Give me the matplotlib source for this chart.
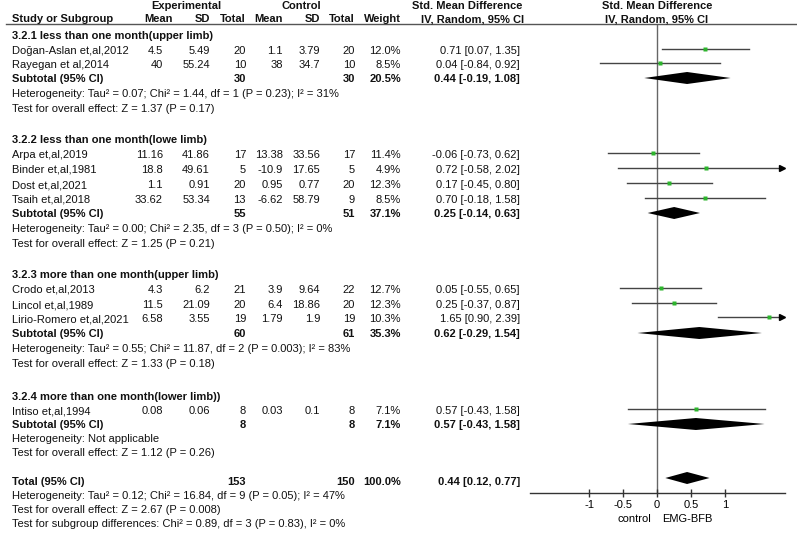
import matplotlib
matplotlib.use('Agg')
import matplotlib.pyplot as plt

plt.rcParams['font.family'] = ['Liberation Sans', 'DejaVu Sans']

# ---- data ----
groups = [
    '3.2.1 less than one month(upper limb)',
    '3.2.2 less than one month(lowe limb)',
    '3.2.3 more than one month(upper limb)',
    '3.2.4 more than one month(lower limb))',
]
studies = [
    'Doğan-Aslan et,al,2012', 'Rayegan et al,2014',
    'Arpa et,al,2019', 'Binder et,al,1981', 'Dost et,al,2021', 'Tsaih et,al,2018',
    'Crodo et,al,2013', 'Lincol et,al,1989', 'Lirio-Romero et,al,2021',
    'Intiso et,al,1994',
]
study_group = [0, 0, 1, 1, 1, 1, 2, 2, 2, 3]
exp_mean = ['4.5', '40', '11.16', '18.8', '1.1', '33.62', '4.3', '11.5', '6.58', '0.08']
exp_sd = ['5.49', '55.24', '41.86', '49.61', '0.91', '53.34', '6.2', '21.09', '3.55', '0.06']
exp_n = [20, 10, 17, 5, 20, 13, 21, 20, 19, 8]
ctl_mean = ['1.1', '38', '13.38', '-10.9', '0.95', '-6.62', '3.9', '6.4', '1.79', '0.03']
ctl_sd = ['3.79', '34.7', '33.56', '17.65', '0.77', '58.79', '9.64', '18.86', '1.9', '0.1']
ctl_n = [20, 10, 17, 5, 20, 9, 22, 20, 19, 8]
weight = [12.0, 8.5, 11.4, 4.9, 12.3, 8.5, 12.7, 12.3, 10.3, 7.1]
smd = [0.71, 0.04, -0.06, 0.72, 0.17, 0.70, 0.05, 0.25, 1.65, 0.57]
lo = [0.07, -0.84, -0.73, -0.58, -0.45, -0.18, -0.55, -0.37, 0.90, -0.43]
hi = [1.35, 0.92, 0.62, 2.02, 0.80, 1.58, 0.65, 0.87, 2.39, 1.58]

sub_exp_n = [30, 55, 60, 8]
sub_ctl_n = [30, 51, 61, 8]
sub_weight = [20.5, 37.1, 35.3, 7.1]
sub_smd = [0.44, 0.25, 0.62, 0.57]
sub_lo = [-0.19, -0.14, -0.29, -0.43]
sub_hi = [1.08, 0.63, 1.54, 1.58]
sub_het = [
    'Heterogeneity: Tau² = 0.07; Chi² = 1.44, df = 1 (P = 0.23); I² = 31%',
    'Heterogeneity: Tau² = 0.00; Chi² = 2.35, df = 3 (P = 0.50); I² = 0%',
    'Heterogeneity: Tau² = 0.55; Chi² = 11.87, df = 2 (P = 0.003); I² = 83%',
    'Heterogeneity: Not applicable',
]
sub_test = [
    'Test for overall effect: Z = 1.37 (P = 0.17)',
    'Test for overall effect: Z = 1.25 (P = 0.21)',
    'Test for overall effect: Z = 1.33 (P = 0.18)',
    'Test for overall effect: Z = 1.12 (P = 0.26)',
]
tot_exp_n, tot_ctl_n = 153, 150
tot_smd, tot_lo, tot_hi = 0.44, 0.12, 0.77
tot_lines = [
    'Heterogeneity: Tau² = 0.12; Chi² = 16.84, df = 9 (P = 0.05); I² = 47%',
    'Test for overall effect: Z = 2.67 (P = 0.008)',
    'Test for subgroup differences: Chi² = 0.89, df = 3 (P = 0.83), I² = 0%',
]
ticks = [-1, -0.5, 0, 0.5, 1]
tick_labels = ['-1', '-0.5', '0', '0.5', '1']

# ---- layout (pixel rows) ----
W, H = 797, 535
XMIN, XMAX = -1.87, 1.88
group_y = [36, 140, 275, 397]
study_y = [51, 65, 155, 170, 185, 200, 290, 305, 319, 411]
sub_y = [79, 214, 334, 425]
het_y = [94, 229, 349, 439]
test_y = [109, 244, 364, 453]
total_y = 482
tot_line_y = [496, 510, 524]
AX_TOP, AX_BOT = 25, 493
FX0, FX1 = 530, 785

FS = 8
col_r = dict(em=163, esd=210, en=246, cm=283, csd=320, cn=355, w=401, ci=520)

fig = plt.figure(figsize=(W / 100, H / 100), dpi=100)
ax = fig.add_axes([0, 0, 1, 1])
ax.set_xlim(0, W)
ax.set_ylim(H, 0)
ax.axis('off')


def txt(x, y, s, ha='right', bold=False):
    ax.text(x, y, s, ha=ha, va='center', fontsize=FS,
            fontweight='bold' if bold else 'normal', color='#111111')


# header
txt(186, 6, 'Experimental', ha='center', bold=True)
txt(301, 6, 'Control', ha='center', bold=True)
txt(467, 6, 'Std. Mean Difference', ha='center', bold=True)
txt(657, 6, 'Std. Mean Difference', ha='center', bold=True)
txt(12, 19, 'Study or Subgroup', ha='left', bold=True)
txt(173, 19, 'Mean', bold=True)
txt(col_r['esd'], 19, 'SD', bold=True)
txt(col_r['en'], 19, 'Total', bold=True)
txt(col_r['cm'], 19, 'Mean', bold=True)
txt(col_r['csd'], 19, 'SD', bold=True)
txt(col_r['cn'], 19, 'Total', bold=True)
txt(col_r['w'], 19, 'Weight', bold=True)
txt(473, 19, 'IV, Random, 95% CI', ha='center', bold=True)
txt(657, 19, 'IV, Random, 95% CI', ha='center', bold=True)
ax.plot([6, W], [AX_TOP - 1, AX_TOP - 1], color='#555555', lw=1)

for g in range(len(groups)):
    txt(12, group_y[g], groups[g], ha='left', bold=True)
    txt(12, sub_y[g], 'Subtotal (95% CI)', ha='left', bold=True)
    txt(col_r['en'], sub_y[g], str(sub_exp_n[g]), bold=True)
    txt(col_r['cn'], sub_y[g], str(sub_ctl_n[g]), bold=True)
    txt(col_r['w'], sub_y[g], f'{sub_weight[g]:.1f}%', bold=True)
    txt(col_r['ci'], sub_y[g], f'{sub_smd[g]:.2f} [{sub_lo[g]:.2f}, {sub_hi[g]:.2f}]', bold=True)
    txt(12, het_y[g], sub_het[g], ha='left')
    txt(12, test_y[g], sub_test[g], ha='left')

for i in range(len(studies)):
    y = study_y[i]
    txt(12, y, studies[i], ha='left')
    txt(col_r['em'], y, exp_mean[i])
    txt(col_r['esd'], y, exp_sd[i])
    txt(col_r['en'], y, str(exp_n[i]))
    txt(col_r['cm'], y, ctl_mean[i])
    txt(col_r['csd'], y, ctl_sd[i])
    txt(col_r['cn'], y, str(ctl_n[i]))
    txt(col_r['w'], y, f'{weight[i]:.1f}%')
    txt(col_r['ci'], y, f'{smd[i]:.2f} [{lo[i]:.2f}, {hi[i]:.2f}]')

txt(12, total_y, 'Total (95% CI)', ha='left', bold=True)
txt(col_r['en'], total_y, str(tot_exp_n), bold=True)
txt(col_r['cn'], total_y, str(tot_ctl_n), bold=True)
txt(col_r['w'], total_y, '100.0%', bold=True)
txt(col_r['ci'], total_y, f'{tot_smd:.2f} [{tot_lo:.2f}, {tot_hi:.2f}]', bold=True)
for s, y in zip(tot_lines, tot_line_y):
    txt(12, y, s, ha='left')

# ---- forest panel ----
fa = fig.add_axes([FX0 / W, 1 - AX_BOT / H, (FX1 - FX0) / W, (AX_BOT - AX_TOP) / H])
fa.set_xlim(XMIN, XMAX)
fa.set_ylim(AX_BOT, AX_TOP)
fa.patch.set_alpha(0)
for sp in ['top', 'left', 'right']:
    fa.spines[sp].set_visible(False)
fa.spines['bottom'].set_color('#333333')
fa.spines['bottom'].set_linewidth(1)
fa.set_yticks([])
fa.set_xticks(ticks)
fa.set_xticklabels(tick_labels, fontsize=FS)
fa.tick_params(axis='x', direction='inout', length=6, width=1, color='#333333', pad=2)
fa.axvline(0, color='#666666', lw=1, zorder=1)

for i in range(len(studies)):
    y = study_y[i] - 2
    a, b = max(lo[i], XMIN), min(hi[i], XMAX - 0.06)
    fa.plot([a, b], [y, y], color='#444444', lw=1, zorder=2)
    if hi[i] > XMAX:
        fa.plot([XMAX - 0.04], [y], marker='>', color='black', ms=4, zorder=3, clip_on=False)
    fa.plot([smd[i]], [y], marker='s', color='#2db52d', ms=1.8 + weight[i] * 0.09,
            mec='none', zorder=4)


def diamond(m, l, h, y, hh=6):
    fa.fill([l, m, h, m], [y, y - hh, y, y + hh], color='black', zorder=3, lw=0)


for g in range(len(groups)):
    diamond(sub_smd[g], sub_lo[g], sub_hi[g], sub_y[g] - 1)
diamond(tot_smd, tot_lo, tot_hi, total_y - 4)

fa.text(-0.33, 519, 'control', ha='center', va='center', fontsize=FS,
        transform=fa.transData, clip_on=False)
fa.text(0.44, 519, 'EMG-BFB', ha='center', va='center', fontsize=FS,
        transform=fa.transData, clip_on=False)

fig.savefig('out.png', dpi=100)
